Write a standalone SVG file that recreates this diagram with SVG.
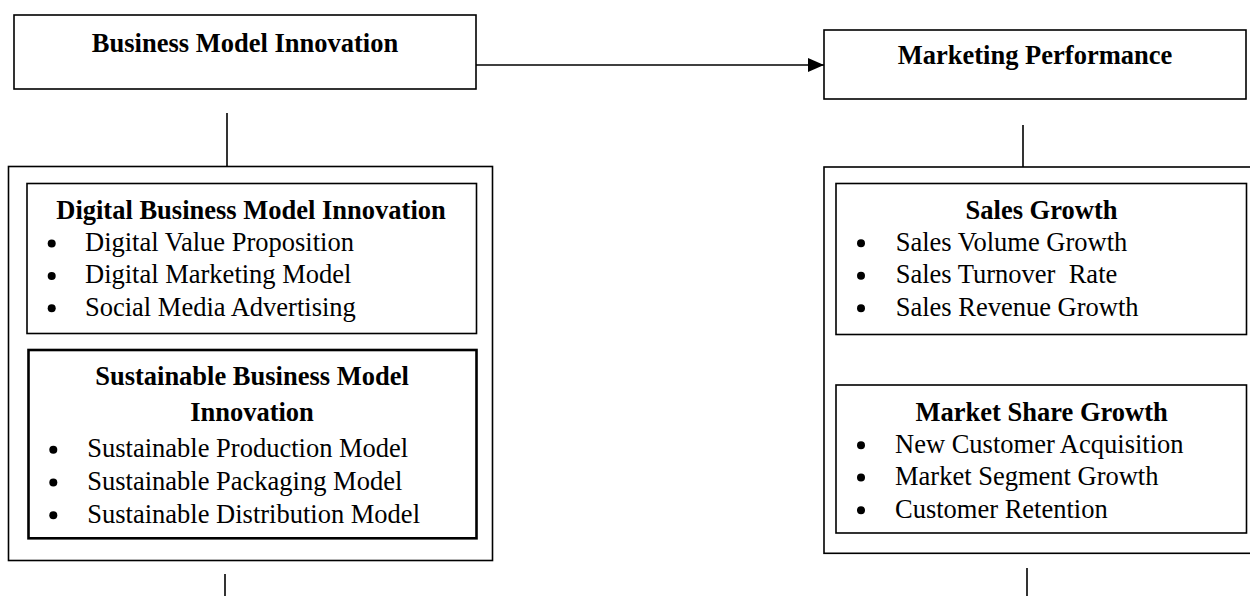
<svg xmlns="http://www.w3.org/2000/svg" width="1250" height="596" viewBox="0 0 1250 596">
  <style>
    .box { fill: #fff; stroke: #000; stroke-width: 1.6; }
    .thick { fill: #fff; stroke: #000; stroke-width: 2.6; }
    .line { stroke: #000; stroke-width: 1.6; fill: none; }
    .title { font-family: "Liberation Serif", "Times New Roman", serif; font-weight: bold; font-size: 26.5px; fill: #000; text-anchor: middle; }
    .item { font-family: "Liberation Serif", "Times New Roman", serif; font-size: 26.5px; fill: #000; white-space: pre; }
    .dot { fill: #000; }
  </style>
  <defs>
    <marker id="arrow" viewBox="0 0 16 14" refX="16" refY="7" markerWidth="16" markerHeight="14" markerUnits="userSpaceOnUse" orient="auto">
      <path d="M0,0 L16,7 L0,14 Z" fill="#000"/>
    </marker>
  </defs>
  <rect width="1250" height="596" fill="#fff"/>

  <!-- connectors -->
  <g id="connectors">
    <line class="line" x1="476" y1="65" x2="824" y2="65" marker-end="url(#arrow)"/>
    <line class="line" x1="227" y1="113" x2="227" y2="166"/>
    <line class="line" x1="1023" y1="125" x2="1023" y2="167"/>
    <line class="line" x1="225" y1="574" x2="225" y2="596"/>
    <line class="line" x1="1027" y1="568" x2="1027" y2="596"/>
  </g>

  <!-- top-level constructs -->
  <g id="bmi">
    <rect class="box" x="14" y="15" width="462" height="74"/>
    <text class="title" x="245" y="51.5">Business Model Innovation</text>
  </g>
  <g id="marketing-performance">
    <rect class="box" x="824" y="30" width="422" height="69"/>
    <text class="title" x="1035" y="64">Marketing Performance</text>
  </g>

  <!-- left dimension container -->
  <g id="bmi-dimensions">
    <rect class="box" x="8.5" y="166.5" width="484" height="394"/>
  </g>
  <g id="digital-bmi">
    <rect class="box" x="27" y="183.5" width="449.5" height="150"/>
    <text class="title" x="251" y="219.3">Digital Business Model Innovation</text>
    <circle class="dot" cx="51.7" cy="243.5" r="4"/>
    <circle class="dot" cx="51.7" cy="276" r="4"/>
    <circle class="dot" cx="51.7" cy="308.3" r="4"/>
    <text class="item" x="85" y="251">Digital Value Proposition</text>
    <text class="item" x="85" y="283.3">Digital Marketing Model</text>
    <text class="item" x="85" y="315.7">Social Media Advertising</text>
  </g>
  <g id="sustainable-bmi">
    <rect class="thick" x="28.5" y="350" width="448" height="188.3"/>
    <text class="title" x="252" y="385">Sustainable Business Model</text>
    <text class="title" x="252" y="421">Innovation</text>
    <circle class="dot" cx="53.3" cy="449.8" r="4"/>
    <circle class="dot" cx="53.3" cy="482.5" r="4"/>
    <circle class="dot" cx="53.3" cy="515.2" r="4"/>
    <text class="item" x="87.3" y="457.3">Sustainable Production Model</text>
    <text class="item" x="87.3" y="490">Sustainable Packaging Model</text>
    <text class="item" x="87.3" y="522.7">Sustainable Distribution Model</text>
  </g>

  <!-- right dimension container (runs past the right edge) -->
  <g id="mp-dimensions">
    <rect class="box" x="824" y="167" width="440" height="386.3"/>
  </g>
  <g id="sales-growth">
    <rect class="box" x="836" y="183.5" width="410.5" height="151"/>
    <text class="title" x="1041.5" y="219.3">Sales Growth</text>
    <circle class="dot" cx="861" cy="243.2" r="4"/>
    <circle class="dot" cx="861" cy="275.8" r="4"/>
    <circle class="dot" cx="861" cy="308.2" r="4"/>
    <text class="item" x="895.7" y="250.7">Sales Volume Growth</text>
    <text class="item" x="895.7" y="283.3">Sales Turnover  Rate</text>
    <text class="item" x="895.7" y="315.7">Sales Revenue Growth</text>
  </g>
  <g id="market-share-growth">
    <rect class="box" x="836" y="385" width="410.5" height="148"/>
    <text class="title" x="1041.7" y="421">Market Share Growth</text>
    <circle class="dot" cx="861" cy="445.2" r="4"/>
    <circle class="dot" cx="861" cy="477.5" r="4"/>
    <circle class="dot" cx="861" cy="510.2" r="4"/>
    <text class="item" x="895" y="452.7">New Customer Acquisition</text>
    <text class="item" x="895" y="485">Market Segment Growth</text>
    <text class="item" x="895" y="517.7">Customer Retention</text>
  </g>
</svg>
